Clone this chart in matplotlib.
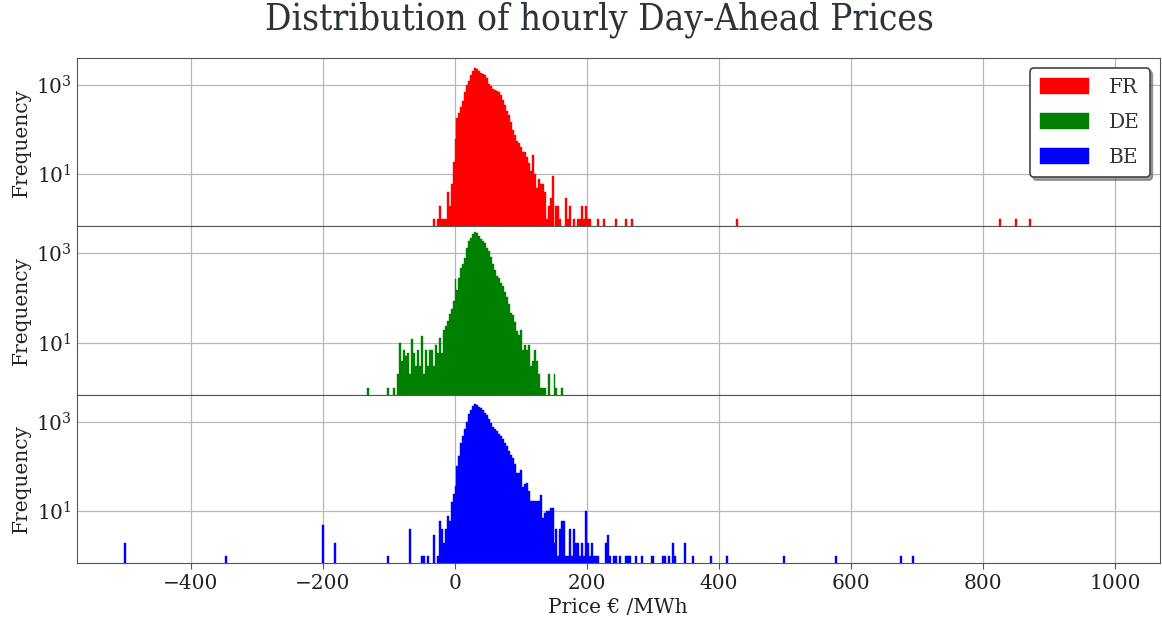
import numpy as np
import matplotlib.pyplot as plt
from matplotlib import font_manager

# bin counts (3 EUR/MWh bins)
fr_start = -31
fr_counts = [1, 0, 1, 2, 1, 1, 1, 4, 2, 6,
             19, 63, 180, 235, 314, 440, 710, 1000, 1230, 1670,
             2050, 2340, 2280, 2050, 1850, 1790, 1670, 1400, 1070, 935,
             815, 760, 735, 710, 600, 465, 360, 265, 208, 148,
             100, 77, 55, 50, 41, 32, 31, 24, 18, 12,
             27, 10, 5, 8, 6, 6, 4, 1, 2, 3,
             9, 0, 2, 2, 1, 0, 0, 3, 1, 2,
             0, 1, 0, 1, 1, 2, 1, 2, 1, 1]
fr_extra_prices = [218, 226, 243, 259, 267, 428, 827, 849, 871]
fr_extra_counts = [1, 1, 1, 1, 1, 1, 1, 1, 1]

de_start = -87
de_counts = [2, 10, 4, 7, 5, 6, 2, 12, 6, 3,
             7, 3, 14, 2, 7, 3, 7, 7, 3, 9,
             6, 13, 6, 19, 24, 30, 45, 58, 85, 265,
             155, 275, 475, 565, 770, 1340, 1890, 2170, 2680, 2970,
             2810, 2490, 2100, 1890, 1680, 1340, 1130, 840, 565, 420,
             315, 285, 212, 188, 137, 107, 75, 47, 41, 29,
             18, 15, 19, 7, 9, 7, 9, 3, 4, 7,
             4, 2, 1, 1, 1, 0, 2, 0, 0, 2,
             1, 0, 0, 1]
de_extra_prices = [-132, -102, -92]
de_extra_counts = [1, 1, 1]

be_start = -25.5
be_counts = [1, 6, 4, 2, 4, 8, 6, 16, 24, 37,
             103, 173, 342, 480, 675, 1000, 1455, 1785, 2230, 2430,
             2350, 2120, 1980, 1785, 1585, 1405, 1127, 950, 760, 675,
             620, 540, 480, 405, 342, 288, 223, 178, 158, 116,
             70, 72, 83, 34, 40, 42, 29, 17, 17, 17,
             17, 17, 23, 7, 9, 10, 10, 12, 12, 2,
             4, 1, 4, 6, 6, 1, 1, 4, 1, 4,
             2, 2, 1, 2, 1, 10, 2, 1, 2, 1,
             1, 1]
be_extra_prices = [-500, -347, -200, -181, -100, -69, -51, -47, -41, -31,
                   229, 233, 236, 241, 244, 250, 259, 262, 265, 273, 283,
                   298, 301, 316, 320, 326, 331, 335, 350, 361, 388, 411,
                   498, 577, 677, 694]
be_extra_counts = [2, 1, 5, 2, 1, 4, 1, 1, 1, 3,
                   2, 3, 1, 1, 1, 1, 1, 1, 1, 1, 1,
                   1, 1, 1, 1, 1, 2, 1, 2, 1, 1, 1,
                   1, 1, 1, 1]

countries = ['FR', 'DE', 'BE']
colors = ['red', 'green', 'blue']

names = {f.name for f in font_manager.fontManager.ttflist}
title_family = 'DejaVu Serif Condensed' if 'DejaVu Serif Condensed' in names else 'DejaVu Serif'
plt.rcParams['font.family'] = 'DejaVu Serif'
plt.rcParams['axes.unicode_minus'] = True

series = [(fr_start, fr_counts, fr_extra_prices, fr_extra_counts),
          (de_start, de_counts, de_extra_prices, de_extra_counts),
          (be_start, be_counts, be_extra_prices, be_extra_counts)]

edges = np.arange(-501.5, 1000, 3)

fig, axes = plt.subplots(3, 1, figsize=(11.62, 6.23), dpi=100, sharex=True)
fig.subplots_adjust(left=0.066, right=0.998, top=0.907, bottom=0.096, hspace=0)

handles = []
for ax, name, col, (start, counts, xp, xc) in zip(axes, countries, colors, series):
    prices = np.concatenate([start + 3 * np.arange(len(counts)), xp])
    weights = np.concatenate([counts, xc])
    _, _, patches = ax.hist(prices, bins=edges, weights=weights, color=col,
                            edgecolor=col, linewidth=0.3, label=name, log=True)
    handles.append(patches[0])
    ax.set_yscale('log')
    ax.set_ylim(0.69, 4000)
    ax.set_yticks([10, 1000])
    ax.minorticks_off()
    ax.set_ylabel('Frequency', fontsize=14.5, color='#222222')
    ax.grid(True, color='#b8b8b8', linewidth=0.9)
    ax.set_axisbelow(True)
    ax.tick_params(axis='y', length=0, labelsize=14.5, labelcolor='#222222')
    ax.tick_params(axis='x', length=4, labelsize=14.5, labelcolor='#222222',
                   color='#555555')
    for s in ax.spines.values():
        s.set_color('#555555')

axes[-1].set_xlim(-573, 1068)
axes[-1].set_xticks([-400, -200, 0, 200, 400, 600, 800, 1000])
axes[-1].set_xlabel('Price € /MWh', fontsize=14.5, color='#222222', labelpad=4)

leg = axes[0].legend(handles=handles, labels=countries, loc='upper right',
                     fontsize=14.5, shadow=True, fancybox=True, framealpha=1,
                     handlelength=2.4, handleheight=0.85, labelspacing=0.8,
                     handletextpad=1.0, borderpad=0.5, borderaxespad=0.5)
leg.get_frame().set_edgecolor('#444444')
leg.get_frame().set_linewidth(1.2)
for t in leg.get_texts():
    t.set_color('#333333')

fig.suptitle('Distribution of hourly Day-Ahead Prices', x=0.516, y=0.997,
             fontsize=26.5, color='#2e3338', family=title_family,
             fontstretch='condensed')

fig.savefig('out.png', dpi=100)
